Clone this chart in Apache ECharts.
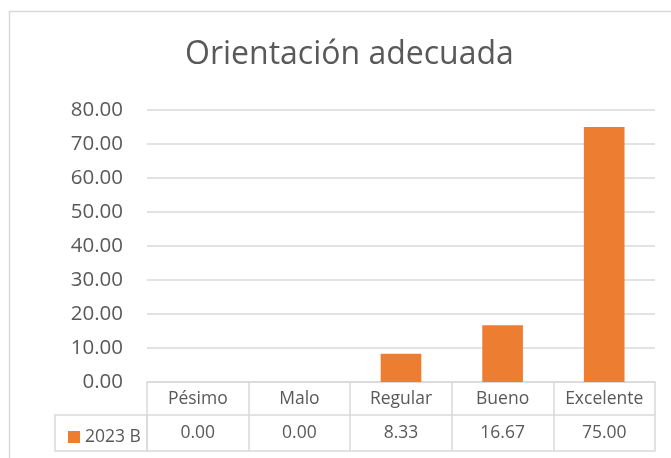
<!doctype html>
<html lang="es">
  <head>
    <meta charset="UTF-8" />
    <title>Orientación adecuada</title>
    <script src="https://cdn.jsdelivr.net/npm/echarts/dist/echarts.min.js"></script>
    <style>
      body {
        margin: 0;
        padding: 0;
        background: #fff;
      }
      .main {
        width: 671px;
        height: 458px;
      }
    </style>
  </head>
  <body>
    <div class="main"></div>
    <script>
      // datos del gráfico
      const categorias = ["Pésimo", "Malo", "Regular", "Bueno", "Excelente"];
      const serieNombre = "2023 B";
      const valores = [0.0, 0.0, 8.33, 16.67, 75.0];
      const yMin = 0;
      const yMax = 80;
      const yPaso = 10;

      const gris = "#d9d9d9";
      const texto = "#595959";
      const fuente = "Open Sans";

      const myChart = echarts.init(document.querySelector(".main"));

      const option = {
        backgroundColor: "#fff",
        animation: false,
        title: {
          text: "Orientación adecuada",
          left: 180,
          top: 34,
          textStyle: {
            fontFamily: fuente,
            fontSize: 32,
            fontWeight: "normal",
            color: texto,
          },
        },
        legend: {
          data: [serieNombre],
          left: 63,
          top: 423,
          icon: "rect",
          itemWidth: 12,
          itemHeight: 12,
          itemGap: 0,
          textStyle: { fontFamily: fuente, fontSize: 17.5, color: texto },
        },
        grid: {
          left: 147,
          right: 16,
          top: 110,
          bottom: 76,
        },
        xAxis: [
          {
            // fila de encabezados de la tabla
            type: "category",
            data: categorias,
            position: "bottom",
            axisLine: { show: true, lineStyle: { color: gris, width: 1.5 } },
            axisTick: { show: true, length: 33, lineStyle: { color: gris, width: 1.5 } },
            axisLabel: {
              margin: 7,
              lineHeight: 20,
              fontFamily: fuente,
              fontSize: 17.5,
              color: texto,
              interval: 0,
            },
          },
          {
            // fila de valores
            type: "category",
            data: valores.map((v) => v.toFixed(2)),
            position: "bottom",
            offset: 33,
            axisLine: { show: true, lineStyle: { color: gris, width: 1.5 } },
            axisTick: { show: true, length: 36, lineStyle: { color: gris, width: 1.5 } },
            axisLabel: {
              margin: 8,
              lineHeight: 20,
              fontFamily: fuente,
              fontSize: 17.5,
              color: texto,
              interval: 0,
            },
          },
          {
            // borde inferior de la tabla
            type: "category",
            data: categorias,
            position: "bottom",
            offset: 69,
            axisLine: { show: true, lineStyle: { color: gris, width: 1.5 } },
            axisTick: { show: false },
            axisLabel: { show: false },
          },
        ],
        yAxis: {
          type: "value",
          min: yMin,
          max: yMax,
          interval: yPaso,
          axisLine: { show: false },
          axisTick: { show: false },
          splitLine: { lineStyle: { color: gris, width: 1.5 } },
          axisLabel: {
            margin: 24,
            fontFamily: fuente,
            fontSize: 20.5,
            color: texto,
            formatter: (v) => v.toFixed(2),
          },
        },
        graphic: [
          {
            // marco del gráfico
            type: "rect",
            shape: { x: 9.5, y: 11.5, width: 700, height: 500 },
            style: { fill: "none", stroke: gris, lineWidth: 1.5 },
            silent: true,
            z: -1,
          },
          {
            // celda de la leyenda en la tabla
            type: "rect",
            shape: { x: 55, y: 415, width: 92, height: 36 },
            style: { fill: "none", stroke: gris, lineWidth: 1.5 },
            silent: true,
          },
        ],
        series: [
          {
            name: serieNombre,
            type: "bar",
            xAxisIndex: 0,
            data: valores,
            barWidth: "40%",
            itemStyle: { color: "#ed7d31" },
          },
        ],
      };

      myChart.setOption(option);
    </script>
  </body>
</html>
